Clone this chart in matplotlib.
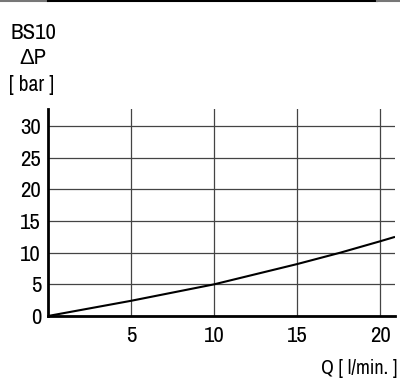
import matplotlib
matplotlib.use('Agg')
import matplotlib.pyplot as plt
from matplotlib.lines import Line2D
import logging
logging.getLogger('matplotlib.font_manager').setLevel(logging.ERROR)

#-- data --#
flow = [0, 5, 10, 15, 17.6, 20, 20.9]          # Q [l/min.]
dp = [0, 2.4, 5.0, 8.2, 10.0, 11.8, 12.5]      # dP [bar]
xticks = [5, 10, 15, 20]
yticks = [0, 5, 10, 15, 20, 25, 30]

plt.rcParams['font.family'] = ['Liberation Sans Narrow', 'Archivo Narrow', 'Liberation Sans', 'DejaVu Sans']

W, H = 400, 385
fig = plt.figure(figsize=(4, 3.85), dpi=100)
ax = fig.add_axes([48 / W, 1 - 316 / H, (395 - 48) / W, (316 - 109) / H])

ax.plot(flow, dp, color='black', lw=1.5, solid_capstyle='butt')
ax.set_xlim(0, 20.9)
ax.set_ylim(0, 32.7)
ax.set_xticks(xticks)
ax.set_yticks(yticks)
ax.grid(True, color='#444444', lw=0.9)
ax.tick_params(length=0, labelsize=16.5)
ax.tick_params(axis='y', pad=5)
ax.tick_params(axis='x', pad=7)
for s in ['top', 'right']:
    ax.spines[s].set_visible(False)
for s in ['left', 'bottom']:
    ax.spines[s].set_linewidth(2)
    ax.spines[s].set_color('black')

#-- labels --#
fig.text(11 / W, 1 - 33 / H, 'BS10', fontsize=16.5, ha='left', va='center')
fig.text(33 / W, 1 - 58 / H, 'ΔP', fontsize=16, ha='center', va='center')
fig.text(31.5 / W, 1 - 85 / H, '[ bar ]', fontsize=15.5, ha='center', va='center')
fig.text(397 / W, 1 - 368 / H, 'Q [ l/min. ]', fontsize=14.5, ha='right', va='center')

#-- top border --#
fig.add_artist(Line2D([0, 48 / W], [1 - 0.5 / H] * 2, color='#777777', lw=1.5))
fig.add_artist(Line2D([48 / W, 377 / W], [1 - 0.5 / H] * 2, color='black', lw=1.5))
fig.add_artist(Line2D([377 / W, 1], [1 - 0.5 / H] * 2, color='#777777', lw=1.5))

fig.savefig('out.png', dpi=100)
